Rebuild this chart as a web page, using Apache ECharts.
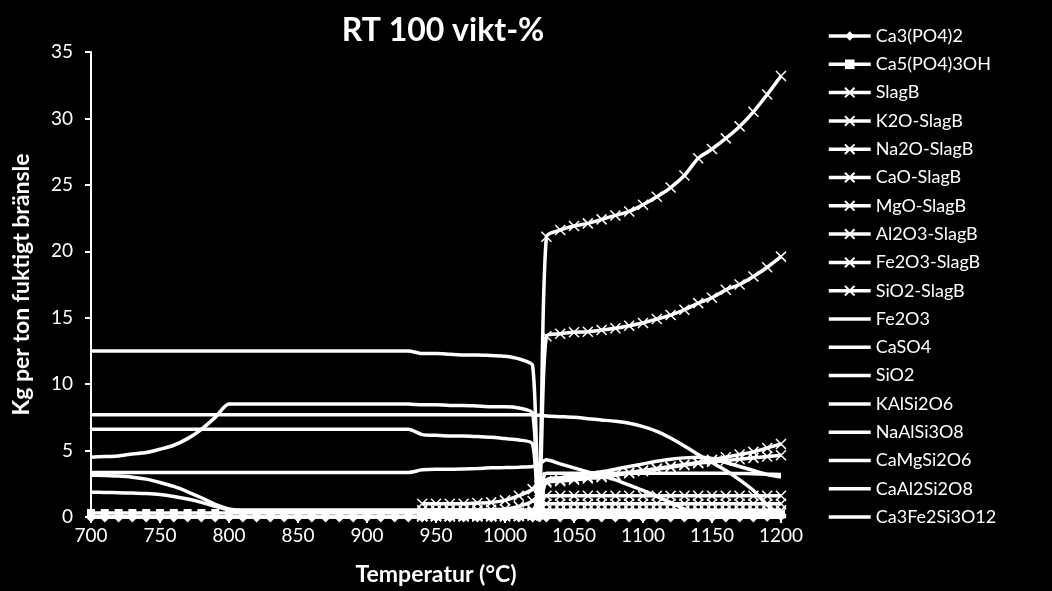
<!DOCTYPE html>
<html lang="sv">
<head>
<meta charset="UTF-8">
<title>RT 100 vikt-%</title>
<style>
  html, body { margin: 0; padding: 0; background: #000; }
  #main { width: 1052px; height: 591px; }
</style>
</head>
<body>
<div id="main"></div>
<script src="https://cdn.jsdelivr.net/npm/echarts@6/dist/echarts.min.js"></script>
<script>
// temperatures (°C)
var temps = [700,710,720,730,740,750,760,770,780,790,
  800,810,820,830,840,850,860,870,880,890,
  900,910,920,930,940,950,960,970,980,990,
  1000,1010,1020,1025,
  1030,1040,1050,1060,1070,1080,1090,1100,1110,
  1120,1130,1140,1150,1160,1170,1180,1190,1200];

// kg per ton fuktigt bränsle
var ca3po42 = [0,0,0,0,0,0,0,0,0,0, 0,0,0,0,0,0,0,0,0,0, 0,0,0,0,0,0,0,0,0,0,
  0,0,0,0, 0,0,0,0,0,0,0,0,0, 0,0,0,0,0,0,0,0.05,0.1];
var ca5po43oh = [0.3,0.3,0.3,0.3,0.3,0.3,0.3,0.3,0.3,0.3, 0.3,0.3,0.3,0.3,0.3,0.3,0.3,0.3,0.3,0.3,
  0.3,0.3,0.3,0.3,0.3,0.3,0.3,0.3,0.3,0.3, 0.3,0.3,0.3,0.2,
  0.2,0.2,0.2,0.2,0.2,0.2,0.2,0.2,0.2, 0.2,0.2,0.2,0.2,0.2,0.2,0.2,0.2,0.2];
var slagB = [null,null,null,null,null,null,null,null,null,null, null,null,null,null,null,null,null,null,null,null,
  null,null,null,null,1.0,1.0,1.0,1.0,1.05,1.1, 1.25,1.6,2.1,3.0,
  21.1,21.6,21.9,22.1,22.4,22.7,23.0,23.5,24.1, 24.8,25.7,27.0,27.7,28.5,29.4,30.5,31.8,33.2];
var k2oSlagB = [null,null,null,null,null,null,null,null,null,null, null,null,null,null,null,null,null,null,null,null,
  null,null,null,null,0.15,0.15,0.15,0.15,0.15,0.15, 0.15,0.2,0.3,0.6,
  1.0,1.0,1.0,1.0,1.0,1.0,1.0,1.0,1.0, 1.0,1.0,1.0,1.0,1.0,1.0,1.0,1.0,1.0];
var na2oSlagB = [null,null,null,null,null,null,null,null,null,null, null,null,null,null,null,null,null,null,null,null,
  null,null,null,null,0.05,0.05,0.05,0.05,0.05,0.05, 0.05,0.05,0.1,0.2,
  0.3,0.3,0.3,0.3,0.3,0.3,0.3,0.3,0.3, 0.3,0.3,0.3,0.3,0.3,0.3,0.3,0.3,0.3];
var caoSlagB = [null,null,null,null,null,null,null,null,null,null, null,null,null,null,null,null,null,null,null,null,
  null,null,null,null,0.2,0.2,0.2,0.2,0.2,0.2, 0.25,0.35,0.5,1.5,
  2.7,2.8,2.9,3.0,3.1,3.2,3.35,3.5,3.65, 3.8,3.95,4.1,4.3,4.5,4.7,4.9,5.2,5.5];
var mgoSlagB = [null,null,null,null,null,null,null,null,null,null, null,null,null,null,null,null,null,null,null,null,
  null,null,null,null,0.05,0.05,0.05,0.05,0.05,0.05, 0.05,0.1,0.2,0.8,
  1.6,1.6,1.6,1.6,1.6,1.6,1.6,1.6,1.6, 1.6,1.6,1.6,1.6,1.6,1.6,1.6,1.6,1.6];
var al2o3SlagB = [null,null,null,null,null,null,null,null,null,null, null,null,null,null,null,null,null,null,null,null,
  null,null,null,null,0.1,0.1,0.1,0.1,0.1,0.1, 0.15,0.2,0.4,1.3,
  2.6,2.7,2.8,2.9,3.0,3.15,3.3,3.45,3.6, 3.75,3.9,4.05,4.15,4.25,4.35,4.45,4.55,4.65];
var fe2o3SlagB = [null,null,null,null,null,null,null,null,null,null, null,null,null,null,null,null,null,null,null,null,
  null,null,null,null,0.05,0.05,0.05,0.05,0.05,0.05, 0.05,0.1,0.15,0.3,
  0.5,0.5,0.5,0.5,0.5,0.5,0.5,0.5,0.5, 0.5,0.5,0.5,0.5,0.5,0.5,0.5,0.5,0.5];
var sio2SlagB = [null,null,null,null,null,null,null,null,null,null, null,null,null,null,null,null,null,null,null,null,
  null,null,null,null,0.5,0.5,0.5,0.5,0.5,0.55, 0.6,0.8,1.2,1.8,
  13.6,13.8,13.9,13.95,14.07,14.2,14.4,14.6,14.9, 15.2,15.6,16.1,16.5,17.1,17.5,18.1,18.8,19.6];
var fe2o3 = [1.86,1.85,1.83,1.8,1.77,1.7,1.55,1.35,1.1,0.8, 0.55,0.5,0.5,0.5,0.5,0.5,0.5,0.5,0.5,0.5,
  0.5,0.5,0.5,0.5,0.5,0.5,0.5,0.5,0.5,0.5, 0.5,0.5,0.5,0,
  0,0,0,0,0,0,0,0,0, 0,0,0,0,0,0,0,0,0];
var caso4 = [12.5,12.5,12.5,12.5,12.5,12.5,12.5,12.5,12.5,12.5, 12.5,12.5,12.5,12.5,12.5,12.5,12.5,12.5,12.5,12.5,
  12.5,12.5,12.5,12.5,12.3,12.3,12.25,12.2,12.2,12.15, 12.1,11.9,11.4,0,
  0,0,0,0,0,0,0,0,0, 0,0,0,0,0,0,0,0,0];
var sio2 = [7.7,7.7,7.7,7.7,7.7,7.7,7.7,7.7,7.7,7.7, 7.7,7.7,7.7,7.7,7.7,7.7,7.7,7.7,7.7,7.7,
  7.7,7.7,7.7,7.7,7.7,7.7,7.7,7.7,7.7,7.7, 7.7,7.7,7.7,7.65,
  7.6,7.55,7.5,7.4,7.3,7.2,7.05,6.8,6.45, 5.95,5.35,4.7,4.1,3.5,2.8,2.0,0.9,0.1];
var kalsi2o6 = [4.5,4.55,4.6,4.75,4.85,5.1,5.4,5.9,6.6,7.5, 8.5,8.5,8.5,8.5,8.5,8.5,8.5,8.5,8.5,8.5,
  8.5,8.5,8.5,8.5,8.45,8.45,8.4,8.4,8.35,8.3, 8.3,8.2,7.8,0,
  0,0,0,0,0,0,0,0,0, 0,0,0,0,0,0,0,0,0];
var naalsi3o8 = [6.6,6.6,6.6,6.6,6.6,6.6,6.6,6.6,6.6,6.6, 6.6,6.6,6.6,6.6,6.6,6.6,6.6,6.6,6.6,6.6,
  6.6,6.6,6.6,6.6,6.2,6.15,6.1,6.1,6.05,6.0, 5.9,5.8,5.5,0,
  0,0,0,0,0,0,0,0,0, 0,0,0,0,0,0,0,0,0];
var camgsi2o6 = [3.15,3.12,3.08,3.0,2.85,2.6,2.3,1.9,1.45,0.95, 0.6,0.5,0.5,0.5,0.5,0.5,0.5,0.5,0.5,0.5,
  0.5,0.5,0.5,0.5,0.5,0.5,0.5,0.5,0.5,0.5, 0.5,0.5,0.5,0.6,
  2.8,2.95,3.1,3.25,3.4,3.6,3.8,4.0,4.2, 4.35,4.45,4.5,4.4,4.1,3.8,3.5,3.2,3.0];
var caal2si2o8 = [3.35,3.35,3.35,3.35,3.35,3.35,3.35,3.35,3.35,3.35, 3.35,3.35,3.35,3.35,3.35,3.35,3.35,3.35,3.35,3.35,
  3.35,3.35,3.35,3.35,3.55,3.6,3.6,3.62,3.65,3.7, 3.72,3.75,3.8,4.0,
  4.3,4.0,3.7,3.4,3.1,2.8,2.4,2.0,1.55, 1.1,0.6,0.2,0,0,0,0,0,0];
var ca3fe2si3o12 = [0,0,0,0,0,0,0,0,0,0, 0,0,0,0,0,0,0,0,0,0, 0,0,0,0,0,0,0,0,0,0,
  0,0,0,1.5, 3.3,3.3,3.3,3.3,3.3,3.3,3.3,3.3,3.3, 3.3,3.3,3.3,3.3,3.3,3.28,3.25,3.22,3.2];

var cross = 'path://M0,0L10,10M10,0L0,10';
var lines = [
  ['Ca3(PO4)2', ca3po42, 'diamond', 11],
  ['Ca5(PO4)3OH', ca5po43oh, 'rect', 8],
  ['SlagB', slagB, cross, 10],
  ['K2O-SlagB', k2oSlagB, cross, 10],
  ['Na2O-SlagB', na2oSlagB, cross, 10],
  ['CaO-SlagB', caoSlagB, cross, 10],
  ['MgO-SlagB', mgoSlagB, cross, 10],
  ['Al2O3-SlagB', al2o3SlagB, cross, 10],
  ['Fe2O3-SlagB', fe2o3SlagB, cross, 10],
  ['SiO2-SlagB', sio2SlagB, cross, 10],
  ['Fe2O3', fe2o3, 'none', 0],
  ['CaSO4', caso4, 'none', 0],
  ['SiO2', sio2, 'none', 0],
  ['KAlSi2O6', kalsi2o6, 'none', 0],
  ['NaAlSi3O8', naalsi3o8, 'none', 0],
  ['CaMgSi2O6', camgsi2o6, 'none', 0],
  ['CaAl2Si2O8', caal2si2o8, 'none', 0],
  ['Ca3Fe2Si3O12', ca3fe2si3o12, 'none', 0]
];

var font = 'Lato, "Open Sans", sans-serif';
var plainLine = 'path://M0,0L42,0L42,3.5L0,3.5Z';
var chart = echarts.init(document.getElementById('main'));

chart.setOption({
  backgroundColor: '#000',
  animation: false,
  textStyle: { fontFamily: font, color: '#fff' },
  title: {
    text: 'RT 100 vikt-%',
    left: 438,
    top: 10,
    textAlign: 'center',
    textStyle: { color: '#fff', fontSize: 32, fontWeight: 'bold', fontFamily: font }
  },
  legend: {
    orient: 'vertical',
    left: 827,
    top: 27,
    padding: 0,
    itemWidth: 42,
    itemHeight: 12,
    itemGap: 10.3,
    lineStyle: { width: 3.5, color: '#fff' },
    data: lines.map(function (l) {
      return l[2] === 'none' ? { name: l[0], icon: plainLine } : { name: l[0] };
    }),
    textStyle: { color: '#fff', fontSize: 18, fontFamily: font, padding: [0, 0, 0, 0] }
  },
  grid: { left: 91, right: 271, top: 52, bottom: 74 },
  xAxis: {
    type: 'value',
    min: 700, max: 1200, interval: 50,
    name: 'Temperatur (°C)',
    nameLocation: 'middle',
    nameGap: 46,
    nameTextStyle: { color: '#fff', fontSize: 23, fontWeight: 'bold', fontFamily: font },
    axisLine: { lineStyle: { color: '#fff', width: 2 } },
    axisTick: { show: true, length: 6, lineStyle: { color: '#fff', width: 2 } },
    axisLabel: { color: '#fff', fontSize: 19, margin: 9, fontFamily: font,
      formatter: function (v) { return String(v); } },
    splitLine: { show: false }
  },
  yAxis: {
    type: 'value',
    min: 0, max: 35, interval: 5,
    name: 'Kg per ton fuktigt bränsle',
    nameLocation: 'middle',
    nameGap: 58,
    nameTextStyle: { color: '#fff', fontSize: 23, fontWeight: 'bold', fontFamily: font },
    axisLine: { show: true, lineStyle: { color: '#fff', width: 2 } },
    axisTick: { show: true, length: 6, lineStyle: { color: '#fff', width: 2 } },
    axisLabel: { color: '#fff', fontSize: 19, margin: 18, fontFamily: font },
    splitLine: { show: false }
  },
  series: lines.map(function (l) {
    return {
      name: l[0],
      type: 'line',
      data: temps.map(function (t, i) { return [t, l[1][i]]; }),
      symbol: l[2],
      symbolSize: l[3],
      showSymbol: l[2] !== 'none',
      smooth: 0.25,
      clip: false,
      connectNulls: false,
      color: '#fff',
      lineStyle: { color: '#fff', width: 3.5 },
      itemStyle: { color: '#fff', borderColor: '#fff', borderWidth: l[2] === cross ? 1.5 : 0 },
      emphasis: { disabled: true }
    };
  })
});
</script>
</body>
</html>
